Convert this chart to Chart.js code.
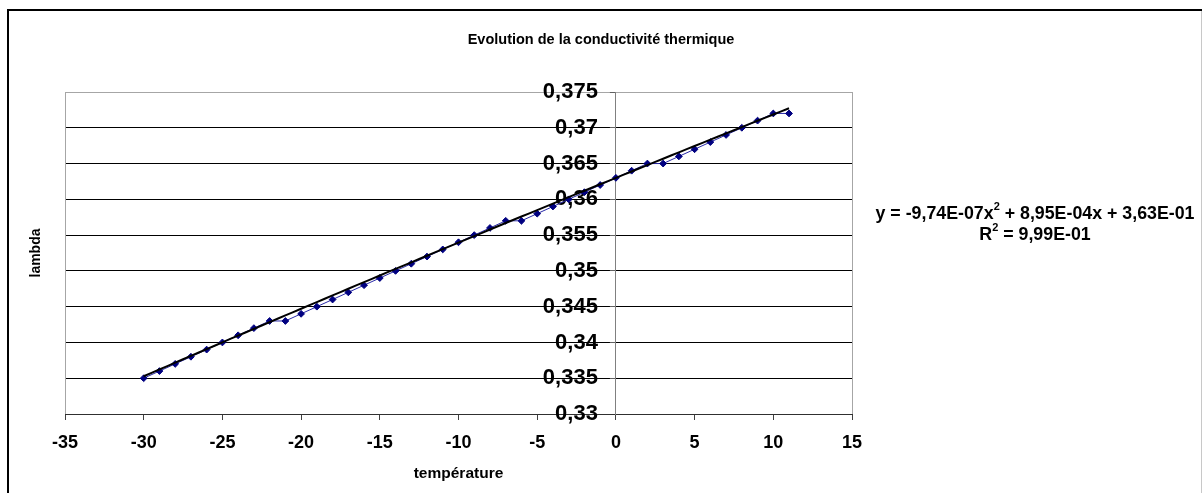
<!DOCTYPE html>
<html>
<head>
<meta charset="utf-8">
<title>Evolution de la conductivité thermique</title>
<script src="https://cdn.jsdelivr.net/npm/chart.js@4.4.1/dist/chart.umd.min.js"></script>
<style>
  html, body { margin: 0; padding: 0; background: #ffffff; }
  canvas { display: block; }
</style>
</head>
<body>
<canvas id="chart" width="1203" height="493"></canvas>
<script>
// Mesures : température (°C) et conductivité thermique lambda
const temperatures = [-30, -29, -28, -27, -26, -25, -24, -23, -22, -21, -20, -19, -18, -17, -16, -15, -14, -13, -12, -11, -10,
  -9, -8, -7, -6, -5, -4, -3, -2, -1, 0, 1, 2, 3, 4, 5, 6, 7, 8, 9, 10, 11];
const lambdaValues = [0.335, 0.336, 0.337, 0.338, 0.339, 0.340, 0.341, 0.342, 0.343, 0.343, 0.344, 0.345, 0.346, 0.347,
  0.348, 0.349, 0.350, 0.351, 0.352, 0.353, 0.354, 0.355, 0.356, 0.357, 0.357, 0.358, 0.359, 0.360, 0.361, 0.362,
  0.363, 0.364, 0.365, 0.365, 0.366, 0.367, 0.368, 0.369, 0.370, 0.371, 0.372, 0.372];

// Axes
const xTickValues = [-35, -30, -25, -20, -15, -10, -5, 0, 5, 10, 15];
const yTickValues = [0.33, 0.335, 0.34, 0.345, 0.35, 0.355, 0.36, 0.365, 0.37, 0.375];
const yTickLabels = ['0,33', '0,335', '0,34', '0,345', '0,35', '0,355', '0,36', '0,365', '0,37', '0,375'];
const yAxisCrossesAt = 0;   // l'axe vertical coupe l'axe des températures en x = 0

// Courbe de tendance polynomiale (ordre 2) : y = a x² + b x + c
const trendA = -9.74e-7;
const trendB = 8.95e-4;
const trendC = 3.63e-1;
const equationParts = ['y = -9,74E-07x', '2', ' + 8,95E-04x + 3,63E-01'];
const r2Parts = ['R', '2', ' = 9,99E-01'];

const chartTitle = 'Evolution de la conductivité thermique';
const xAxisTitle = 'température';
const yAxisTitle = 'lambda';

const FONT = "'Liberation Sans', Arial, Helvetica, sans-serif";

const trendPoints = temperatures.map(t => ({ x: t, y: trendA * t * t + trendB * t + trendC }));
const measurePoints = temperatures.map((t, i) => ({ x: t, y: lambdaValues[i] }));

// Place l'axe vertical sur x = 0 ; ses étiquettes restent à gauche de l'axe
const crossingAxis = {
  id: 'crossingAxis',
  afterLayout(chart) {
    const y = chart.scales.y;
    const px = chart.scales.x.getPixelForValue(yAxisCrossesAt);
    y.left = 0;
    y.right = px;
    y.width = px;
  }
};

// Cadre, titre, titre vertical et équation de la tendance
const decorations = {
  id: 'decorations',
  beforeDraw(chart) {
    const ctx = chart.ctx;
    ctx.save();
    ctx.fillStyle = '#ffffff';
    ctx.fillRect(0, 0, chart.width, chart.height);
    ctx.lineWidth = 1;
    ctx.strokeStyle = '#c8c8c8';
    ctx.beginPath();
    ctx.moveTo(1201.5, 10);
    ctx.lineTo(1201.5, chart.height);
    ctx.stroke();
    ctx.strokeStyle = '#000000';
    ctx.lineWidth = 2;
    ctx.beginPath();
    ctx.moveTo(8, chart.height);
    ctx.lineTo(8, 10);
    ctx.lineTo(1202, 10);
    ctx.stroke();
    ctx.restore();
  },
  afterDraw(chart) {
    const ctx = chart.ctx;
    const area = chart.chartArea;
    ctx.save();
    ctx.fillStyle = '#000000';
    ctx.textBaseline = 'middle';

    ctx.font = 'bold 14.5px ' + FONT;
    ctx.textAlign = 'center';
    ctx.fillText(chartTitle, 601, 40);

    ctx.save();
    ctx.translate(36, (area.top + area.bottom) / 2);
    ctx.rotate(-Math.PI / 2);
    ctx.font = 'bold 14px ' + FONT;
    ctx.fillText(yAxisTitle, 0, 0);
    ctx.restore();

    const drawWithSup = (parts, cx, cy) => {
      const mainFont = 'bold 17.8px ' + FONT;
      const supFont = 'bold 11px ' + FONT;
      ctx.font = mainFont;
      const w0 = ctx.measureText(parts[0]).width;
      const w2 = ctx.measureText(parts[2]).width;
      ctx.font = supFont;
      const w1 = ctx.measureText(parts[1]).width;
      let x = cx - (w0 + w1 + w2) / 2;
      ctx.textAlign = 'left';
      ctx.font = mainFont;
      ctx.fillText(parts[0], x, cy);
      x += w0;
      ctx.font = supFont;
      ctx.fillText(parts[1], x, cy - 7);
      x += w1;
      ctx.font = mainFont;
      ctx.fillText(parts[2], x, cy);
    };
    drawWithSup(equationParts, 1035, 214);
    drawWithSup(r2Parts, 1035, 235);
    ctx.restore();
  }
};

new Chart(document.getElementById('chart'), {
  type: 'scatter',
  data: {
    datasets: [
      {
        label: 'Polynomial (lambda)',
        data: trendPoints,
        showLine: true,
        borderColor: '#000000',
        borderWidth: 2,
        pointRadius: 0,
        tension: 0.4,
        order: 0
      },
      {
        label: 'lambda',
        data: measurePoints,
        showLine: true,
        borderColor: '#2a2aa8',
        borderWidth: 1,
        pointStyle: 'rectRot',
        pointRadius: 3.4,
        pointBackgroundColor: '#000080',
        pointBorderColor: '#000080',
        pointBorderWidth: 1,
        order: 1
      }
    ]
  },
  options: {
    responsive: false,
    animation: false,
    devicePixelRatio: 1,
    layout: { autoPadding: false, padding: { left: 65, right: 351, top: 92, bottom: 0 } },
    plugins: { legend: { display: false }, tooltip: { enabled: false }, title: { display: false } },
    scales: {
      x: {
        type: 'linear',
        position: 'bottom',
        min: -35,
        max: 15,
        afterFit: (scale) => { scale.height = 79; },
        afterBuildTicks: (scale) => { scale.ticks = xTickValues.map(v => ({ value: v })); },
        ticks: {
          color: '#000000',
          font: { family: FONT, size: 18, weight: 'bold' },
          padding: 12,
          maxRotation: 0,
          callback: (v) => String(v)
        },
        grid: {
          drawOnChartArea: true,
          color: (c) => (c.tick && (c.tick.value === -35 || c.tick.value === 15)) ? '#a6a6a6' : 'rgba(0,0,0,0)',
          tickColor: '#404040',
          tickLength: 6,
          lineWidth: 1
        },
        border: { display: true, color: '#303030', width: 1 },
        title: {
          display: true,
          text: xAxisTitle,
          color: '#000000',
          font: { family: FONT, size: 15.5, weight: 'bold' },
          padding: { top: 0, bottom: 10 }
        }
      },
      y: {
        type: 'linear',
        position: 'left',
        min: 0.33,
        max: 0.375,
        afterFit: (scale) => { scale.width = 0; },
        afterBuildTicks: (scale) => { scale.ticks = yTickValues.map(v => ({ value: v })); },
        ticks: {
          color: '#000000',
          font: { family: FONT, size: 22, weight: 'bold' },
          padding: 12,
          callback: (v, i) => yTickLabels[i]
        },
        grid: {
          color: (c) => {
            if (!c.tick) return '#000000';
            if (Math.abs(c.tick.value - 0.375) < 1e-9) return '#a6a6a6';
            return '#000000';
          },
          tickColor: '#606060',
          tickLength: 6,
          lineWidth: 1
        },
        border: { display: true, color: '#808080', width: 1 }
      }
    }
  },
  plugins: [crossingAxis, decorations]
});
</script>
</body>
</html>
